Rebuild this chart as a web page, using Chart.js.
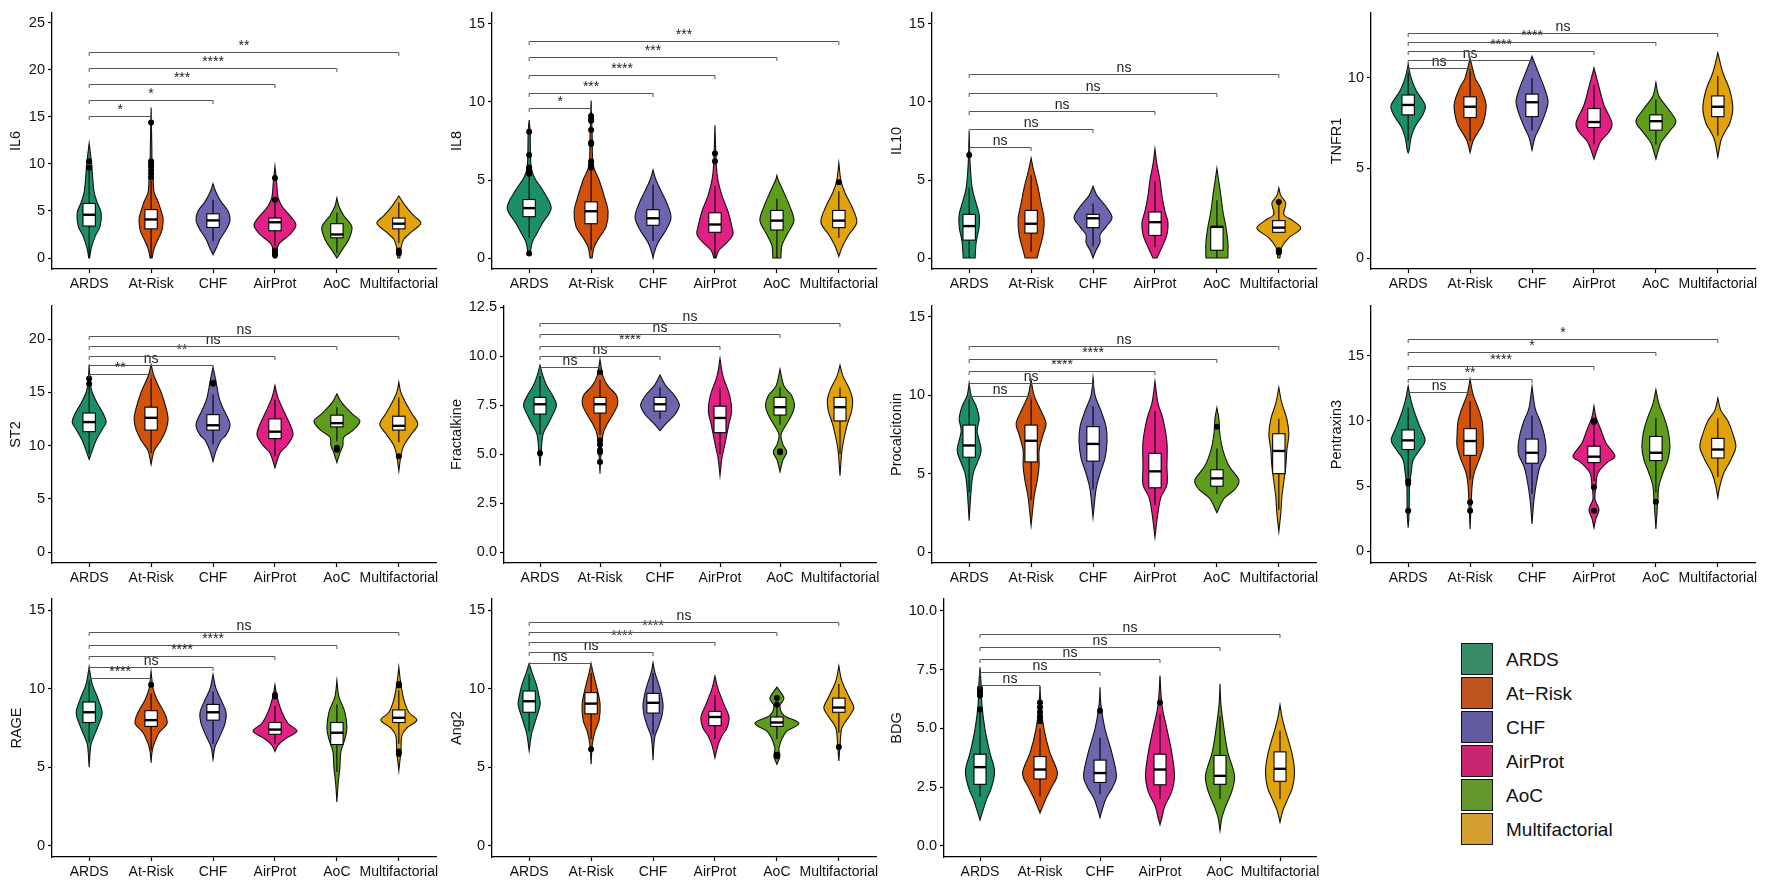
<!DOCTYPE html>
<html>
<head>
<meta charset="utf-8">
<script src="https://cdn.jsdelivr.net/npm/chart.js@4.4.1/dist/chart.umd.min.js"></script>
<style>
  body { margin: 0; background: #fff; }
  #wrap { position: relative; width: 1765px; height: 881px; overflow: hidden; font-family: "Liberation Sans", Arial, Helvetica, sans-serif; }
  canvas { position: absolute; }
  .key { position: absolute; width: 30px; height: 30px; border: 1.5px solid #111; }
  .keytxt { position: absolute; font-size: 19px; color: #111; line-height: 34px; }
</style>
</head>
<body>
<div id="wrap"></div>
<script>
const groups = ['ARDS', 'At-Risk', 'CHF', 'AirProt', 'AoC', 'Multifactorial'];
const colors = ['#1a8f69', '#d2520a', '#6d65ad', '#e21f82', '#5e9c1c', '#e2a30a'];
const legendColors = ['#3a8b67', '#bf531f', '#615a9f', '#c9266f', '#63962d', '#d49f2e'];

// violin outlines: [value, density] per group, density in units of 1/62 of a category
// box: [q1, median, q3, whiskerLow, whiskerHigh]
// sig: [compared group index, bracket height, label], always against ARDS

// ---- IL6
const il6Range = [-1.17, 26.06];
const il6Ticks = [0, 5, 10, 15, 20, 25];
const il6Violin = [
  [[0,0.5],[1,2],[2.3,6],[3.4,11],[4.8,12],[5.9,8],[7,5],[8.5,3.5],[10,2.5],[12.2,0]],
  [[0,1],[1,3],[2,7],[3,11],[4.2,12],[5,10],[6,7],[7,3],[8.5,2],[10,1],[12,0.7],[16,0]],
  [[0.35,0],[1,3],[2,7],[3,13],[4,17],[5,15],[6,8],[7,3],[7.9,0]],
  [[0,1],[0.5,1.3],[1.5,4],[2.5,15],[3.5,21],[4.5,15],[5.5,7],[6.5,3],[8,1.7],[9.75,0]],
  [[0,0],[1,6],[2,12],[3.3,15],[4.5,7],[5.5,2],[6.4,0]],
  [[0,1],[1,2],[2,5],[2.8,13],[3.7,22],[4.5,15],[5.5,7],[6.6,0]]
];
const il6Box = [[3.4,4.6,5.8,0.1,9.3],[3.1,4.1,5.15,0.05,8.2],[3.25,4.0,4.7,1.8,6.2],[2.9,3.8,4.25,1.3,6.1],[2.15,2.5,3.65,0.5,4.8],[3.1,3.65,4.25,1.6,5.9]];
const il6Out = [[9.6,10.3],[8.6,9.0,9.3,9.7,10.0,10.3,14.4],[],[0.3,0.5,0.8,6.2,8.5],[],[0.5,0.8]];
const il6Sig = [[1,15.1,'*'],[2,16.8,'*'],[3,18.5,'***'],[4,20.2,'****'],[5,21.9,'**']];

// ---- IL8
const il8Range = [-0.7, 15.7];
const il8Ticks = [0, 5, 10, 15];
const il8Violin = [
  [[0.3,1],[1,3],[1.5,7],[2.2,13],[3.2,22],[4.2,15],[5.2,5],[6,1.7],[8,1],[8.85,0]],
  [[0,1],[0.7,3],[1.3,8],[2,15],[3,17],[4,13],[5,8],[6,2],[8,1],[10.1,0]],
  [[0,0],[0.3,1],[1,5],[1.8,13],[2.6,18],[3.5,14],[4.3,8],[5,3],[5.65,0]],
  [[0,1],[0.5,4],[1,12],[1.5,18],[2,17],[3,13],[4,7],[5,3],[6,1.3],[8.5,0]],
  [[0,4],[0.8,5],[1.5,10],[2.4,17],[3.3,13],[4.2,7],[5,1.3],[5.3,0]],
  [[0.1,0],[0.8,4],[1.5,10],[2.3,18],[3.3,13],[4.2,6],[5,2],[6.1,0]]
];
const il8Box = [[2.65,3.2,3.75,1.3,5.3],[2.2,3.0,3.6,0.5,5.7],[2.1,2.55,3.1,1.1,4.7],[1.65,2.15,2.9,0,4.6],[1.8,2.4,3.05,0,3.8],[1.95,2.4,3.05,1.3,4.3]];
const il8Out = [[0.3,5.4,5.6,5.8,6.6,8.1],[5.8,6.0,6.2,7.3,7.4,8.2,8.8,8.9,9.1],[],[6.2,6.7],[],[4.85]];
const il8Sig = [[1,9.6,'*'],[2,10.6,'***'],[3,11.7,'****'],[4,12.85,'***'],[5,13.9,'***']];

// ---- IL10
const il10Range = [-0.7, 15.7];
const il10Ticks = [0, 5, 10, 15];
const il10Violin = [
  [[0,6],[1,7],[2,10],[2.8,10],[3.5,7],[4.5,3],[6,1],[8.1,0]],
  [[0,6],[0.5,8],[1.5,12],[2.5,13],[3.5,10],[4.5,7],[5.5,3],[6.4,0]],
  [[0,0],[0.5,3],[1,7],[1.5,7],[2,13],[2.6,19],[3.3,13],[4,4],[4.6,0]],
  [[0,2],[0.7,7],[1.5,12],[2.3,13],[3,10],[4,7],[5,5],[6,2],[7,0]],
  [[0,11],[1,11],[2,9],[3,6],[4,4],[5,1.7],[5.75,0]],
  [[0,1],[0.7,3],[1.3,10],[1.9,22],[2.4,14],[2.8,5],[3.5,7],[4,2],[4.5,0]]
];
const il10Box = [[1.15,2.05,2.8,0,4.5],[1.6,2.2,3.05,0.4,5.3],[1.95,2.55,2.8,0.75,3.5],[1.45,2.3,2.95,0.7,4.9],[0.5,2.0,2.0,0,3.7],[1.65,1.95,2.4,1.6,3.5]];
const il10Out = [[6.6],[],[],[],[],[0.35,0.5,3.6]];
const il10Sig = [[1,7.1,'ns'],[2,8.25,'ns'],[3,9.45,'ns'],[4,10.55,'ns'],[5,11.8,'ns']];

// ---- TNFR1
const tnfr1Range = [-0.6, 13.6];
const tnfr1Ticks = [0, 5, 10];
const tnfr1Violin = [
  [[5.85,0],[6,1],[6.7,3],[7.3,7],[8,15],[8.5,17],[9.3,8],[10,3],[10.75,0]],
  [[5.85,0],[6.5,3],[7,8],[7.5,13],[8.5,16],[9.5,10],[10,5],[11.1,0]],
  [[6,0],[6.7,3],[7.3,8],[8,13],[8.7,16],[9.5,12],[10.2,7],[11.2,0]],
  [[5.5,0],[6,3],[6.5,7],[7,15],[7.5,18],[8.5,10],[9.5,5],[10.55,0]],
  [[5.5,0],[6.4,5],[7,13],[7.6,20],[8.3,12],[9,3],[9.75,0]],
  [[5.6,0],[6.5,3],[7,7],[7.5,12],[8.3,15],[9.3,12],[10.3,5],[11.4,0]]
];
const tnfr1Box = [[7.95,8.5,9.05,6.5,10.3],[7.8,8.4,8.95,6.5,10.5],[7.85,8.65,9.1,7.1,10.0],[7.25,7.55,8.3,6.3,9.6],[7.1,7.6,7.95,6.3,8.8],[7.85,8.4,9.0,6.8,10.1]];
const tnfr1Out = [[],[],[],[],[],[]];
const tnfr1Sig = [[1,10.55,'ns'],[2,11.0,'ns'],[3,11.5,'****'],[4,12.0,'****'],[5,12.5,'ns']];

// ---- ST2
const st2Range = [-1.03, 23.1];
const st2Ticks = [0, 5, 10, 15, 20];
const st2Violin = [
  [[8.7,0],[9.5,3],[10.5,7],[11.5,13],[12.2,17],[13,14],[14,8],[15,3],[16,1],[17.6,0]],
  [[8.2,0],[9.5,3],[10.5,10],[11.5,15],[12.5,17],[13.5,15],[15,10],[16.5,3],[17.6,0]],
  [[8.5,0],[9.5,3],[10.5,8],[11,13],[12,17],[13.5,10],[14.5,6],[16,3],[17.35,0]],
  [[7.9,0],[9.3,5],[10,12],[11,18],[12,15],[13,10],[14.5,3],[15.65,0]],
  [[8.4,0],[9.3,3],[10,6],[10.8,7],[11.5,17],[12.3,23],[13,15],[14,5],[14.85,0]],
  [[7.6,0],[9,2],[10,5],[11,12],[12,19],[13,13],[14,7],[15,2],[15.95,0]]
];
const st2Box = [[11.3,12.2,13.05,9.2,15.5],[11.45,12.6,13.6,9.3,16.3],[11.45,11.9,12.9,10.1,14.8],[10.65,11.3,12.5,9.0,14.3],[11.75,12.1,12.85,10.4,13.6],[11.45,11.85,12.75,10.3,14.5]];
const st2Out = [[15.8,16.3],[],[15.8,15.9],[],[9.6,9.8],[9.0]];
const st2Sig = [[1,16.73,'**'],[2,17.6,'ns'],[3,18.44,'**'],[4,19.3,'ns'],[5,20.25,'ns']];

// ---- Fractalkine
const fracRange = [-0.56, 12.57];
const fracTicks = [0, 2.5, 5, 7.5, 10, 12.5];
const fracViolin = [
  [[4.4,0],[5,1],[6,3],[6.5,8],[7,13],[7.5,17],[8,13],[8.5,7],[9,3],[9.55,0]],
  [[4.0,0],[5,1],[6,3],[6.5,7],[7,13],[7.5,18],[8,17],[8.5,8],[9,3],[9.85,0]],
  [[6.2,0],[6.6,7],[7,15],[7.5,20],[8,15],[8.5,6],[9.05,0]],
  [[3.9,0],[4.8,2],[5.5,5],[6.5,9],[7.2,12],[8,10],[9,3],[9.9,0]],
  [[4.1,0],[4.7,3],[5.1,7],[5.5,3],[6,1],[6.4,5],[7,12],[7.5,15],[8,12],[8.5,4],[9.35,0]],
  [[3.9,0],[5.2,2],[6,5],[6.6,8],[7.2,12],[7.8,13],[8.3,10],[9,3],[9.55,0]]
];
const fracBox = [[7.05,7.55,7.9,6.0,9.0],[7.1,7.55,7.9,6.0,8.8],[7.2,7.55,7.9,6.8,8.4],[6.1,6.85,7.45,5.0,8.4],[7.0,7.4,7.9,6.5,8.4],[6.7,7.4,7.9,5.0,8.4]];
const fracOut = [[5.05],[4.6,5.1,5.2,5.5,5.7,9.2],[],[],[5.1,5.15],[]];
const fracSig = [[1,9.44,'ns'],[2,10.0,'ns'],[3,10.54,'****'],[4,11.12,'ns'],[5,11.68,'ns']];

// ---- Procalcitonin
const pctRange = [-0.7, 15.7];
const pctTicks = [0, 5, 10, 15];
const pctViolin = [
  [[2.0,0],[4,2],[5,4],[5.7,8],[6.5,12],[7.7,8],[8.5,10],[9.3,7],[10,2],[10.8,0]],
  [[1.7,0],[3.5,3],[4.5,6],[5.5,8],[6.5,8],[7.5,12],[8.2,15],[9,10],[10,3],[11,0]],
  [[2.2,0],[4,3],[5,7],[6,12],[7,14],[8,13],[9,8],[10,2],[11.15,0]],
  [[0.95,0],[2.5,3],[3.5,6],[4.3,12],[5.5,12],[7,12],[8.5,8],[9.5,3],[10.9,0]],
  [[2.5,0],[3.4,7],[4,18],[4.6,22],[5.5,12],[6.5,6],[7.5,3],[8.5,2],[9.2,0]],
  [[1.3,0],[2.5,2],[3.5,3],[4.5,5],[5.5,7],[6.5,8],[7.5,10],[8.5,8],[9.5,3],[10.5,0]]
];
const pctBox = [[6.05,6.8,8.1,3.8,9.8],[5.75,7.1,8.1,3.3,9.8],[5.8,6.9,8.0,4.0,9.3],[4.1,5.15,6.3,3.0,9.0],[4.2,4.7,5.25,3.7,6.6],[5.0,6.45,7.55,2.7,8.5]];
const pctOut = [[],[],[],[],[8.0],[]];
const pctSig = [[1,9.98,'ns'],[2,10.8,'ns'],[3,11.57,'****'],[4,12.34,'****'],[5,13.13,'ns']];

// ---- Pentraxin3
const ptxRange = [-0.9, 18.8];
const ptxTicks = [0, 5, 10, 15];
const ptxViolin = [
  [[1.8,0],[3,1],[5,1.3],[6,3],[7,5],[7.8,12],[8.5,17],[9.5,12],[10.5,7],[11.5,3],[12.65,0]],
  [[1.7,0],[3.5,1],[5,2],[6,4],[7,9],[8,13],[9,13],[10,12],[11,8],[12,3],[13.2,0]],
  [[2.1,0],[4,2],[5.5,5],[6.5,8],[7.3,13],[8,14],[9,12],[10,8],[11,3],[12.65,0]],
  [[1.8,0],[2.5,2],[3.2,5],[4,1],[5,2],[6,4],[6.8,13],[7.3,21],[8.3,12],[9.3,7],[10.3,2],[11.15,0]],
  [[1.7,0],[4,2],[5,3],[6,7],[7,12],[8,14],[9.3,12],[10.3,8],[11.3,3],[12.4,0]],
  [[4.1,0],[5,2],[6,6],[7,13],[8,18],[9,15],[10,10],[10.8,3],[11.75,0]]
];
const ptxBox = [[7.8,8.5,9.3,5.7,11.0],[7.35,8.45,9.4,5.5,11.5],[6.75,7.55,8.6,4.4,10.4],[6.8,7.25,8.05,5.4,9.7],[6.95,7.55,8.8,4.5,10.2],[7.15,7.8,8.65,5.7,10.2]];
const ptxOut = [[3.1,5.2,5.4],[3.1,3.75],[],[3.1,4.9,9.9,10.0],[3.8],[]];
const ptxSig = [[1,12.2,'ns'],[2,13.2,'**'],[3,14.2,'****'],[4,15.25,'*'],[5,16.3,'*']];

// ---- RAGE
const rageRange = [-0.7, 15.7];
const rageTicks = [0, 5, 10, 15];
const rageViolin = [
  [[5.0,0],[6,1],[6.5,2],[7,5],[7.8,10],[8.5,13],[9.5,8],[10.3,3],[11.4,0]],
  [[5.3,0],[6,1],[6.5,3],[7.2,8],[7.8,16],[8.5,13],[9.3,6],[10,2],[11.1,0]],
  [[5.5,0],[6.3,2],[7,7],[7.8,12],[8.5,13],[9.3,8],[10,3],[10.9,0]],
  [[6.0,0],[6.4,3],[6.8,10],[7.3,22],[7.8,13],[8.5,7],[9.5,2],[10.25,0]],
  [[2.8,0],[4,1.3],[5,3],[6,4],[6.8,8],[7.5,10],[8.5,8],[9.5,2],[10.55,0]],
  [[4.8,0],[6,2],[7,3],[7.5,8],[8,18],[8.5,10],[9.3,5],[10.3,2],[11.38,0]]
];
const rageBox = [[7.85,8.5,9.15,6.6,10.5],[7.6,8.0,8.6,6.1,9.7],[8.0,8.5,9.0,6.5,9.8],[7.1,7.4,7.85,6.5,8.9],[6.45,7.2,7.85,4.7,9.0],[7.85,8.15,8.65,6.5,9.9]];
const rageOut = [[],[10.25],[],[9.5,9.6],[],[5.85,6.0,10.2,10.3]];
const rageSig = [[1,10.68,'****'],[2,11.38,'ns'],[3,12.06,'****'],[4,12.8,'****'],[5,13.6,'ns']];

// ---- Ang2
const ang2Range = [-0.7, 15.7];
const ang2Ticks = [0, 5, 10, 15];
const ang2Violin = [
  [[6.05,0],[7,2],[7.5,4],[8.3,8],[9,11],[9.5,10],[10.3,7],[11,3],[11.6,0]],
  [[5.2,0],[6.5,1.3],[7.3,4],[8,8],[9,9],[10,6],[11,2],[11.6,0]],
  [[5.45,0],[6.3,0.7],[7,2],[7.5,5],[8.3,9],[9,10],[10,7],[11,2],[11.65,0]],
  [[5.6,0],[6.4,3],[7,7],[7.5,12],[8.2,14],[9,9],[10,3],[10.8,0]],
  [[5.2,0],[5.7,3],[6.2,2],[6.8,5],[7.3,10],[7.8,22],[8.3,7],[8.9,3],[9.4,7],[10.1,0]],
  [[5.4,0],[6.5,1.3],[7.5,3],[8.2,10],[8.8,15],[9.5,10],[10.5,3],[11.45,0]]
];
const ang2Box = [[8.5,9.2,9.85,7.3,10.9],[8.4,9.05,9.75,6.8,11.0],[8.45,9.1,9.7,7.1,11.0],[7.65,8.2,8.55,6.8,9.6],[7.6,7.85,8.2,6.8,9.0],[8.5,8.8,9.4,7.2,10.3]];
const ang2Out = [[],[6.15],[],[],[5.7,5.8,9.0,9.4],[6.3]];
const ang2Sig = [[1,11.64,'ns'],[2,12.32,'ns'],[3,12.96,'****'],[4,13.62,'****'],[5,14.26,'ns']];

// ---- BDG
const bdgRange = [-0.47, 10.5];
const bdgTicks = [0, 2.5, 5, 7.5, 10];
const bdgViolin = [
  [[1.1,0],[1.5,3],[2,7],[2.5,12],[3.2,15],[4,10],[5,5],[6,2],[7,1],[7.6,0]],
  [[1.4,0],[1.6,2],[2,6],[2.5,12],[3.1,18],[4,10],[5,4],[6,1],[6.8,0]],
  [[1.2,0],[1.5,2],[2,6],[2.5,13],[3,17],[4,12],[5,5],[6,1],[6.75,0]],
  [[0.9,0],[1.2,2],[1.7,5],[2.3,12],[3,15],[4,12],[5,7],[6,2],[7.25,0]],
  [[0.65,0],[1.2,2],[1.7,6],[2.3,12],[3,15],[4,8],[5,4],[6,1],[6.9,0]],
  [[1.0,0],[1.5,3],[2,8],[2.5,13],[3.2,15],[4,12],[5,5],[5.5,2],[6.0,0]]
];
const bdgBox = [[2.62,3.35,3.9,2.1,5.7],[2.85,3.25,3.8,2.1,5.0],[2.7,3.1,3.65,2.2,4.6],[2.6,3.25,3.9,2.0,5.6],[2.62,2.98,3.85,2.0,5.5],[2.75,3.28,4.0,2.0,4.9]];
const bdgOut = [[5.8,6.4,6.5,6.6,6.7],[5.3,5.5,5.7,5.9,6.1],[5.75],[6.1],[],[]];
const bdgSig = [[1,6.84,'ns'],[2,7.38,'ns'],[3,7.93,'ns'],[4,8.44,'ns'],[5,9.0,'ns']];

// panel placement: canvas left, y axis x, plot right, row
const rows = [[13, 269], [306, 563], [599, 857]];
const panels = [
  { name: 'IL6', v: il6Violin, b: il6Box, o: il6Out, s: il6Sig, r: il6Range, t: il6Ticks, pos: [3, 52, 436, 0] },
  { name: 'IL8', v: il8Violin, b: il8Box, o: il8Out, s: il8Sig, r: il8Range, t: il8Ticks, pos: [444, 492, 876, 0] },
  { name: 'IL10', v: il10Violin, b: il10Box, o: il10Out, s: il10Sig, r: il10Range, t: il10Ticks, pos: [884, 932, 1316, 0] },
  { name: 'TNFR1', v: tnfr1Violin, b: tnfr1Box, o: tnfr1Out, s: tnfr1Sig, r: tnfr1Range, t: tnfr1Ticks, pos: [1324, 1371, 1755, 0] },
  { name: 'ST2', v: st2Violin, b: st2Box, o: st2Out, s: st2Sig, r: st2Range, t: st2Ticks, pos: [3, 52, 436, 1] },
  { name: 'Fractalkine', v: fracViolin, b: fracBox, o: fracOut, s: fracSig, r: fracRange, t: fracTicks, pos: [444, 504, 876, 1], dec: 1 },
  { name: 'Procalcitonin', v: pctViolin, b: pctBox, o: pctOut, s: pctSig, r: pctRange, t: pctTicks, pos: [884, 932, 1316, 1] },
  { name: 'Pentraxin3', v: ptxViolin, b: ptxBox, o: ptxOut, s: ptxSig, r: ptxRange, t: ptxTicks, pos: [1324, 1371, 1755, 1] },
  { name: 'RAGE', v: rageViolin, b: rageBox, o: rageOut, s: rageSig, r: rageRange, t: rageTicks, pos: [4, 52, 436, 2] },
  { name: 'Ang2', v: ang2Violin, b: ang2Box, o: ang2Out, s: ang2Sig, r: ang2Range, t: ang2Ticks, pos: [444, 492, 876, 2] },
  { name: 'BDG', v: bdgViolin, b: bdgBox, o: bdgOut, s: bdgSig, r: bdgRange, t: bdgTicks, pos: [884, 944, 1316, 2], dec: 1 }
];

const FONT = '"Liberation Sans", Arial, Helvetica, sans-serif';
const PAD_TOP = 16, PAD_RIGHT = 14, XAXIS_H = 28;

// smooth curve through points (catmull-rom)
function smoothThrough(ctx, pts) {
  for (let i = 0; i < pts.length - 1; i++) {
    const p0 = pts[i - 1] || pts[i], p1 = pts[i], p2 = pts[i + 1], p3 = pts[i + 2] || p2;
    ctx.bezierCurveTo(
      p1[0] + (p2[0] - p0[0]) / 6, p1[1] + (p2[1] - p0[1]) / 6,
      p2[0] - (p3[0] - p1[0]) / 6, p2[1] - (p3[1] - p1[1]) / 6,
      p2[0], p2[1]);
  }
}

function violinPlugin(p) {
  return {
    id: 'violins',
    beforeDatasetsDraw(chart) {
      const ctx = chart.ctx, xs = chart.scales.x, ys = chart.scales.y;
      const band = xs.getPixelForValue(1) - xs.getPixelForValue(0);
      ctx.save();
      p.v.forEach((knots, i) => {
        const cx = xs.getPixelForValue(i);
        const down = knots.slice().reverse();
        const right = down.map(k => [cx + k[1] / 62 * band, ys.getPixelForValue(k[0])]);
        const left = knots.map(k => [cx - k[1] / 62 * band, ys.getPixelForValue(k[0])]);
        ctx.beginPath();
        ctx.moveTo(right[0][0], right[0][1]);
        smoothThrough(ctx, right);
        ctx.lineTo(left[0][0], left[0][1]);
        smoothThrough(ctx, left);
        ctx.closePath();
        ctx.fillStyle = colors[i];
        ctx.fill();
        ctx.lineWidth = 1.1;
        ctx.strokeStyle = '#111';
        ctx.stroke();
      });
      p.b.forEach((bx, i) => {
        const cx = xs.getPixelForValue(i);
        const hw = 0.1 * band;
        const [q1, md, q3, lo, hi] = bx.map(v => ys.getPixelForValue(v));
        ctx.strokeStyle = '#000';
        ctx.lineWidth = 1.1;
        ctx.beginPath();
        ctx.moveTo(cx, lo); ctx.lineTo(cx, q1);
        ctx.moveTo(cx, q3); ctx.lineTo(cx, hi);
        ctx.stroke();
        ctx.fillStyle = '#fff';
        ctx.fillRect(cx - hw, q3, 2 * hw, q1 - q3);
        ctx.strokeRect(cx - hw, q3, 2 * hw, q1 - q3);
        ctx.lineWidth = 2.4;
        ctx.beginPath();
        ctx.moveTo(cx - hw, md); ctx.lineTo(cx + hw, md);
        ctx.stroke();
      });
      ctx.restore();
    },
    afterDatasetsDraw(chart) {
      const ctx = chart.ctx, xs = chart.scales.x, ys = chart.scales.y;
      const x0 = xs.getPixelForValue(0);
      ctx.save();
      ctx.strokeStyle = '#555';
      ctx.lineWidth = 1;
      ctx.fillStyle = '#222';
      ctx.font = '14px ' + FONT;
      ctx.textAlign = 'center';
      ctx.textBaseline = 'alphabetic';
      p.s.forEach(([g, h, label]) => {
        const x1 = xs.getPixelForValue(g);
        const y = Math.round(ys.getPixelForValue(h)) + 0.5;
        ctx.beginPath();
        ctx.moveTo(x0, y + 3.5); ctx.lineTo(x0, y); ctx.lineTo(x1, y); ctx.lineTo(x1, y + 3.5);
        ctx.stroke();
        ctx.fillText(label, (x0 + x1) / 2, y - 2.5);
      });
      ctx.restore();
    }
  };
}

const wrap = document.getElementById('wrap');

panels.forEach(p => {
  const [left, yAxisX, plotRight, row] = p.pos;
  const [top, bottom] = rows[row];
  const canvas = document.createElement('canvas');
  const w = plotRight + PAD_RIGHT - left;
  const h = bottom + XAXIS_H - (top - PAD_TOP);
  canvas.width = w; canvas.height = h;
  canvas.style.left = left + 'px';
  canvas.style.top = (top - PAD_TOP) + 'px';
  wrap.appendChild(canvas);

  const points = [];
  p.o.forEach((vals, i) => vals.forEach(v => points.push({ x: i, y: v })));

  new Chart(canvas, {
    type: 'scatter',
    data: {
      datasets: [{
        data: points,
        pointRadius: 3,
        pointBackgroundColor: '#000',
        pointBorderWidth: 0,
        pointHoverRadius: 3
      }]
    },
    options: {
      responsive: false,
      animation: false,
      devicePixelRatio: 1,
      events: [],
      layout: { padding: { top: PAD_TOP, right: PAD_RIGHT, left: 0, bottom: 0 } },
      plugins: { legend: { display: false }, tooltip: { enabled: false } },
      scales: {
        x: {
          type: 'linear',
          min: -0.6,
          max: 5.6,
          afterBuildTicks: s => { s.ticks = groups.map((g, i) => ({ value: i })); },
          afterFit: s => { s.height = XAXIS_H; },
          ticks: {
            callback: v => groups[v],
            autoSkip: false, maxRotation: 0, minRotation: 0,
            color: '#111', padding: 3,
            font: { family: FONT, size: 14 }
          },
          grid: { drawOnChartArea: false, drawTicks: true, tickLength: 4, tickColor: '#000', tickWidth: 1.2 },
          border: { display: true, color: '#000', width: 1.3 }
        },
        y: {
          type: 'linear',
          min: p.r[0],
          max: p.r[1],
          afterBuildTicks: s => { s.ticks = p.t.map(v => ({ value: v })); },
          afterFit: s => { s.width = yAxisX - left; },
          ticks: {
            callback: v => p.dec ? v.toFixed(1) : String(v),
            color: '#111', padding: 3,
            font: { family: FONT, size: 14.5 }
          },
          title: {
            display: true, text: p.name, color: '#111',
            font: { family: FONT, size: 14.5 }, padding: { top: 4, bottom: 0 }
          },
          grid: { drawOnChartArea: false, drawTicks: true, tickLength: 4, tickColor: '#000', tickWidth: 1.2 },
          border: { display: true, color: '#000', width: 1.3 }
        }
      }
    },
    plugins: [violinPlugin(p)]
  });
});

// legend
groups.forEach((g, i) => {
  const key = document.createElement('div');
  key.className = 'key';
  key.style.left = '1461px';
  key.style.top = (643 + i * 34) + 'px';
  key.style.background = legendColors[i];
  wrap.appendChild(key);
  const txt = document.createElement('div');
  txt.className = 'keytxt';
  txt.style.left = '1506px';
  txt.style.top = (643 + i * 34) + 'px';
  txt.textContent = g === 'At-Risk' ? 'At\u2212Risk' : g;
  wrap.appendChild(txt);
});
</script>
</body>
</html>
